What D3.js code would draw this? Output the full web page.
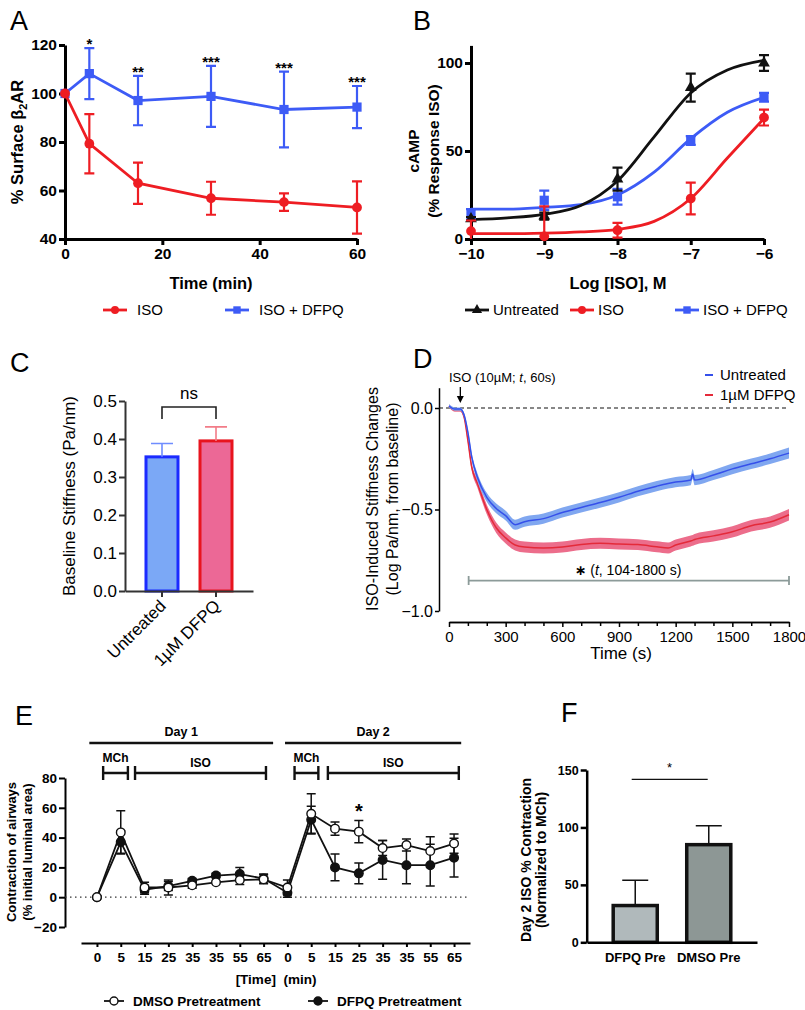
<!DOCTYPE html>
<html>
<head>
<meta charset="utf-8">
<script src="https://cdn.jsdelivr.net/npm/d3@7"></script>
<style>
	body { margin: 0; background: #fff; }
	svg { font-family: "Liberation Sans", Arial, Helvetica, sans-serif; }
</style>
</head>
<body>
<svg id="fig" width="805" height="1010"></svg>
<script>
/*=================
=== Data
=================*/

// A - surface b2AR over time
const aTime = [0, 5, 15, 30, 45, 60];
const aIso = [100, 79.3, 63, 56.8, 55.2, 53];
const aIsoErr = [0, 12.2, 8.5, 6.8, 3.6, 10.8];
const aDfpq = [100, 108.2, 97.1, 98.8, 93.4, 94.4];
const aDfpqErr = [0, 10.5, 10.2, 12.6, 15.6, 8.7];
const aStars = ['', '*', '**', '***', '***', '***'];
const aTicksX = [0, 20, 40, 60];
const aTicksY = [40, 60, 80, 100, 120];

// B - cAMP dose response
const bLogIso = [-10, -9, -8, -7, -6];
const bUntreated = [11.5, 13, 34, 86, 100];
const bUntreatedErr = [1, 2, 6.5, 8, 4.5];
const bIso = [4.5, 1.5, 5, 23, 69];
const bIsoErr = [6, 17, 4.2, 9, 4.5];
const bDfpq = [14, 22, 24, 56, 80.5];
const bDfpqErr = [3, 5.5, 4.5, 2.5, 2.5];
// fitted curves
const bFitX = [-10, -9.5, -9, -8.5, -8, -7.5, -7, -6.5, -6];
const bFitUntreated = [11, 12, 14, 19, 33, 58, 83, 96, 101.5];
const bFitIso = [3, 3, 3.3, 4, 5.5, 10, 23, 46, 68.5];
const bFitDfpq = [17, 17, 18, 19.5, 25, 38, 57, 72, 80.5];
const bTicksX = [-10, -9, -8, -7, -6];
const bTicksY = [0, 50, 100];

// C - baseline stiffness
const cCats = ['Untreated', '1\u00b5M DFPQ'];
const cMeans = [0.353, 0.395];
const cErr = [0.035, 0.037];
const cTicksY = [0, 0.1, 0.2, 0.3, 0.4, 0.5];

// D - ISO induced stiffness changes
const dTime = [0, 30, 60, 80, 100, 120, 150, 200, 250, 300, 350, 400, 500, 600, 700, 800, 900, 1000, 1100, 1160, 1200, 1280, 1290, 1300, 1400, 1500, 1600, 1700, 1800];
const dUntreated = [0.01, -0.005, -0.005, -0.035, -0.12, -0.24, -0.34, -0.44, -0.495, -0.53, -0.575, -0.56, -0.545, -0.515, -0.49, -0.466, -0.44, -0.41, -0.385, -0.372, -0.365, -0.355, -0.325, -0.355, -0.33, -0.3, -0.275, -0.25, -0.222];
const dDfpq = [0.01, -0.01, -0.01, -0.045, -0.16, -0.29, -0.37, -0.5, -0.59, -0.64, -0.675, -0.685, -0.69, -0.685, -0.672, -0.666, -0.67, -0.673, -0.684, -0.69, -0.675, -0.655, -0.652, -0.648, -0.63, -0.61, -0.58, -0.562, -0.526];
const dUntreatedSem = [0.008, 0.008, 0.008, 0.01, 0.014, 0.018, 0.02, 0.022, 0.024, 0.024, 0.025, 0.025, 0.025, 0.025, 0.025, 0.025, 0.025, 0.025, 0.025, 0.025, 0.025, 0.025, 0.025, 0.025, 0.025, 0.026, 0.026, 0.026, 0.027];
const dDfpqSem = [0.008, 0.008, 0.008, 0.01, 0.014, 0.018, 0.022, 0.024, 0.026, 0.027, 0.027, 0.027, 0.027, 0.027, 0.027, 0.027, 0.027, 0.027, 0.027, 0.027, 0.027, 0.027, 0.027, 0.027, 0.028, 0.028, 0.028, 0.028, 0.028];
const dTicksX = [0, 300, 600, 900, 1200, 1500, 1800];
const dMinorX = [100, 200, 400, 500, 700, 800, 1000, 1100, 1300, 1400, 1600, 1700];
const dTicksY = [-1, -0.5, 0];

// E - airway contraction
const eLabels = ['0', '5', '15', '25', '35', '35', '55', '65', '0', '5', '15', '25', '35', '35', '55', '65'];
const eDmso = [0, 43.5, 6.5, 6.5, 8, 10, 11.5, 12, 6.5, 56, 46, 44, 33, 35, 31, 36];
const eDmsoErr = [0, 14.5, 3.5, 5, 2, 0, 3, 3, 5, 13.5, 4.5, 7.5, 5, 4, 9.5, 6.5];
const eDfpq = [0, 37, 5, 7.5, 11, 14.5, 15.5, 12.5, 3, 52, 20, 16, 25, 21.5, 21.5, 26.5];
const eDfpqErr = [0, 7.5, 3, 3, 1.5, 1.5, 4.5, 3, 3, 9, 9, 7, 13, 12.5, 14, 13];
const eTicksY = [-20, 0, 20, 40, 60, 80];
// treatment brackets, in category index units
const eDays = [{label: 'Day 1', from: -0.32, to: 7.4}, {label: 'Day 2', from: 7.9, to: 15.3}];
const eTreat = [
	{label: 'MCh', from: 0.26, to: 1.3}, {label: 'ISO', from: 1.6, to: 7.1},
	{label: 'MCh', from: 8.3, to: 9.3}, {label: 'ISO', from: 9.7, to: 15.2}
];

// F - day 2 ISO contraction
const fCats = ['DFPQ Pre', 'DMSO Pre'];
const fMeans = [32, 85];
const fErr = [22, 16.5];
const fTicksY = [0, 50, 100, 150];

/*=================
=== Helpers
=================*/

const font = '"Liberation Sans", Arial, Helvetica, sans-serif';
const red = '#ee1d23';
const blue = '#3d5bf6';
const svg = d3.select('#fig');

function axis(sel, ax, o) {
	sel.call(ax.tickSize(o.ts === undefined ? 6 : o.ts).tickSizeOuter(0).tickPadding(o.tp === undefined ? 3 : o.tp));
	sel.attr('font-family', font)
		.attr('font-size', o.fs)
		.attr('font-weight', o.bold ? 'bold' : 'normal');
	sel.select('.domain').attr('stroke', o.c || '#000').attr('stroke-width', o.w);
	sel.selectAll('.tick line').attr('stroke', o.c || '#000').attr('stroke-width', o.w);
	sel.selectAll('.tick text').attr('fill', '#000');
	return sel;
}

function letter(x, y, t) {
	svg.append('text').attr('x', x).attr('y', y).attr('font-size', 27).text(t);
}

function yLabel(g, x, y, txt, size, bold) {
	return g.append('text')
		.attr('transform', `translate(${x},${y}) rotate(-90)`)
		.attr('text-anchor', 'middle')
		.attr('font-size', size)
		.attr('font-weight', bold ? 'bold' : 'normal')
		.text(txt);
}

function label(g, x, y, txt, size, bold, anchor) {
	return g.append('text')
		.attr('x', x).attr('y', y)
		.attr('text-anchor', anchor || 'middle')
		.attr('font-size', size)
		.attr('font-weight', bold ? 'bold' : 'normal')
		.text(txt);
}

// error bars: pts = [{x, v, e}]
function errBars(g, pts, x, y, color, cap, w, upOnly, floor) {
	g.append('g').selectAll('path')
		.data(pts.filter(p => p.e > 0))
		.join('path')
		.attr('fill', 'none')
		.attr('stroke', color)
		.attr('stroke-width', w)
		.attr('d', p => {
			const xx = x(p.x);
			const t = y(p.v + p.e);
			let lo = upOnly ? p.v : p.v - p.e;
			if (floor !== undefined) lo = Math.max(floor, lo);
			const b = y(lo);
			let d = `M${xx},${b}V${t}M${xx - cap / 2},${t}H${xx + cap / 2}`;
			if (!upOnly && (floor === undefined || p.v - p.e >= floor)) d += `M${xx - cap / 2},${b}H${xx + cap / 2}`;
			return d;
		});
}

/*=================
=== Panel A
=================*/

letter(10, 30, 'A');
const gA = svg.append('g');
const xA = d3.scaleLinear().domain([0, 60]).range([65, 357]);
const yA = d3.scaleLinear().domain([40, 120]).range([239, 45]);

axis(gA.append('g').attr('transform', 'translate(0,239)'), d3.axisBottom(xA).tickValues(aTicksX), {w: 3, fs: 15.5, bold: true});
axis(gA.append('g').attr('transform', 'translate(65,0)'), d3.axisLeft(yA).tickValues(aTicksY), {w: 3, fs: 15.5, bold: true, tp: 2});

const aSeries = [
	{vals: aDfpq, err: aDfpqErr, color: blue, sym: d3.symbolSquare, size: 85},
	{vals: aIso, err: aIsoErr, color: red, sym: d3.symbolCircle, size: 75}
];
const lineA = d3.line().x(d => xA(d.x)).y(d => yA(d.v));
aSeries.forEach(s => {
	const pts = aTime.map((t, i) => ({x: t, v: s.vals[i], e: s.err[i]}));
	gA.append('path').datum(pts)
		.attr('d', lineA).attr('fill', 'none')
		.attr('stroke', s.color).attr('stroke-width', 2.8);
	errBars(gA, pts, xA, yA, s.color, 10, 2.2, false);
	gA.append('g').selectAll('path').data(pts).join('path')
		.attr('transform', d => `translate(${xA(d.x)},${yA(d.v)})`)
		.attr('d', d3.symbol().type(s.sym).size(s.size))
		.attr('fill', s.color);
});

gA.append('g').selectAll('text').data(aTime)
	.join('text')
	.attr('x', d => xA(d))
	.attr('y', (d, i) => yA(aDfpq[i] + aDfpqErr[i]) + 1)
	.attr('text-anchor', 'middle')
	.attr('font-size', 15).attr('font-weight', 'bold')
	.text((d, i) => aStars[i]);

const aY = gA.append('text')
	.attr('transform', 'translate(23,142) rotate(-90)')
	.attr('text-anchor', 'middle')
	.attr('font-size', 16.5).attr('font-weight', 'bold');
aY.append('tspan').text('% Surface \u03b2');
aY.append('tspan').attr('font-size', 11).attr('dy', 4).text('2');
aY.append('tspan').attr('dy', -4).text('AR');
label(gA, 211, 289, 'Time (min)', 16.5, true);

// legend A
[{x: 115, txt: 'ISO', color: red, sym: d3.symbolCircle, size: 50},
 {x: 237, txt: 'ISO + DFPQ', color: blue, sym: d3.symbolSquare, size: 55}].forEach(l => {
	gA.append('line').attr('x1', l.x - 12).attr('x2', l.x + 12).attr('y1', 310).attr('y2', 310)
		.attr('stroke', l.color).attr('stroke-width', 2.8);
	gA.append('path').attr('transform', `translate(${l.x},310)`)
		.attr('d', d3.symbol().type(l.sym).size(l.size)).attr('fill', l.color);
	label(gA, l.x + 22, 315, l.txt, 15, false, 'start');
});

/*=================
=== Panel B
=================*/

letter(413, 30, 'B');
const gB = svg.append('g');
const xB = d3.scaleLinear().domain([-10, -6]).range([471, 764]);
const yB = d3.scaleLinear().domain([0, 110]).range([239, 45.4]);

axis(gB.append('g').attr('transform', 'translate(0,239)'), d3.axisBottom(xB).tickValues(bTicksX).tickFormat(d3.format('d')), {w: 3, fs: 15.5, bold: true});
axis(gB.append('g').attr('transform', 'translate(471,0)'), d3.axisLeft(yB).tickValues(bTicksY), {w: 3, fs: 15.5, bold: true, tp: 2});

const bSeries = [
	{vals: bDfpq, err: bDfpqErr, fit: bFitDfpq, color: blue, sym: d3.symbolSquare, size: 85},
	{vals: bUntreated, err: bUntreatedErr, fit: bFitUntreated, color: '#111', sym: d3.symbolTriangle, size: 60},
	{vals: bIso, err: bIsoErr, fit: bFitIso, color: red, sym: d3.symbolCircle, size: 75}
];
const lineB = d3.line().x(d => xB(d.x)).y(d => yB(d.v)).curve(d3.curveMonotoneX);
bSeries.forEach(s => {
	const fit = bFitX.map((x, i) => ({x: x, v: s.fit[i]}));
	gB.append('path').datum(fit)
		.attr('d', lineB).attr('fill', 'none')
		.attr('stroke', s.color).attr('stroke-width', 2.8);
});
bSeries.forEach(s => {
	const pts = bLogIso.map((x, i) => ({x: x, v: s.vals[i], e: s.err[i]}));
	errBars(gB, pts, xB, yB, s.color, 10, 2.2, false, 0);
	gB.append('g').selectAll('path').data(pts).join('path')
		.attr('transform', d => `translate(${xB(d.x)},${yB(d.v)})`)
		.attr('d', d3.symbol().type(s.sym).size(s.size))
		.attr('fill', s.color);
});

yLabel(gB, 419, 151, 'cAMP', 15.5, true);
yLabel(gB, 439, 151, '(% Response ISO)', 15.5, true);
label(gB, 618, 289, 'Log [ISO], M', 16.5, true);

[{x: 477, txt: 'Untreated', color: '#111', sym: d3.symbolTriangle, size: 45},
 {x: 582, txt: 'ISO', color: red, sym: d3.symbolCircle, size: 50},
 {x: 687, txt: 'ISO + DFPQ', color: blue, sym: d3.symbolSquare, size: 55}].forEach(l => {
	gB.append('line').attr('x1', l.x - 12).attr('x2', l.x + 12).attr('y1', 310).attr('y2', 310)
		.attr('stroke', l.color).attr('stroke-width', 2.8);
	gB.append('path').attr('transform', `translate(${l.x},310)`)
		.attr('d', d3.symbol().type(l.sym).size(l.size)).attr('fill', l.color);
	label(gB, l.x + 16, 315, l.txt, 15, false, 'start');
});

/*=================
=== Panel C
=================*/

letter(10, 372, 'C');
const gC = svg.append('g');
const xC = d3.scaleBand().domain(cCats).range([125, 253]).paddingInner(0.352).paddingOuter(0.361);
const yC = d3.scaleLinear().domain([0, 0.5]).range([591, 401]);
const cFill = ['#7ba8f6', '#ec6896'];
const cStroke = ['#1b2bff', '#e8141e'];
const cErrColor = ['#6f8dff', '#f27c88'];

gC.selectAll('.barC').data(cCats).join('rect')
	.attr('class', 'barC')
	.attr('x', d => xC(d) + 1.5)
	.attr('width', xC.bandwidth() - 3)
	.attr('y', (d, i) => yC(cMeans[i]))
	.attr('height', (d, i) => yC(0) - yC(cMeans[i]))
	.attr('fill', (d, i) => cFill[i])
	.attr('stroke', (d, i) => cStroke[i])
	.attr('stroke-width', 3);
cCats.forEach((c, i) => {
	errBars(gC, [{x: c, v: cMeans[i], e: cErr[i]}], d => xC(d) + xC.bandwidth() / 2, yC, cErrColor[i], 22, 1.6, true);
});

const axC = axis(gC.append('g').attr('transform', 'translate(0,591)'), d3.axisBottom(xC), {w: 2, fs: 17, c: '#333'});
axC.selectAll('.tick text')
	.attr('x', 0).attr('y', 0).attr('dy', 0)
	.attr('transform', 'translate(5,16) rotate(-45)')
	.style('text-anchor', 'end');
axis(gC.append('g').attr('transform', 'translate(125,0)'), d3.axisLeft(yC).tickValues(cTicksY).tickFormat(d3.format('.1f')), {w: 2, fs: 17, c: '#333', tp: 2});

// ns bracket
const cx0 = xC(cCats[0]) + xC.bandwidth() / 2;
const cx1 = xC(cCats[1]) + xC.bandwidth() / 2;
gC.append('path')
	.attr('d', `M${cx0},419V407H${cx1}V419`)
	.attr('fill', 'none').attr('stroke', '#222').attr('stroke-width', 1.6);
label(gC, (cx0 + cx1) / 2, 399, 'ns', 17, false);
yLabel(gC, 75, 496, 'Baseline Stiffness (Pa/nm)', 17, false);

/*=================
=== Panel D
=================*/

letter(413, 368, 'D');
const gD = svg.append('g');
const xD = d3.scaleLinear().domain([0, 1800]).range([449, 789]);
const yD = d3.scaleLinear().domain([-1, 0.1]).range([611, 387.7]);

axis(gD.append('g').attr('transform', 'translate(0,622)'), d3.axisBottom(xD).tickValues(dMinorX).tickFormat(''), {w: 1.5, fs: 15, ts: 4});
axis(gD.append('g').attr('transform', 'translate(0,622)'), d3.axisBottom(xD).tickValues(dTicksX).tickFormat(d3.format('d')), {w: 1.5, fs: 15, ts: 5, tp: 4});
axis(gD.append('g').attr('transform', 'translate(439,0)'), d3.axisLeft(yD).tickValues(dTicksY).tickFormat(d3.format('.1f')), {w: 1.5, fs: 16, ts: 4, tp: 2});

gD.append('line')
	.attr('x1', 439).attr('x2', xD(1800))
	.attr('y1', yD(0)).attr('y2', yD(0))
	.attr('stroke', '#111').attr('stroke-width', 1.2).attr('stroke-dasharray', '4,3');

const dSeries = [
	{vals: dDfpq, sem: dDfpqSem, line: '#e42a3a', band: '#ec6d8b'},
	{vals: dUntreated, sem: dUntreatedSem, line: '#3550ea', band: '#80a7f0'}
];
const areaD = d3.area().x(d => xD(d.t)).y0(d => yD(d.v - d.s)).y1(d => yD(d.v + d.s)).curve(d3.curveMonotoneX);
const lineD = d3.line().x(d => xD(d.t)).y(d => yD(d.v)).curve(d3.curveMonotoneX);
dSeries.forEach(s => {
	const pts = dTime.map((t, i) => ({t: t, v: s.vals[i], s: s.sem[i]}));
	gD.append('path').datum(pts).attr('d', areaD).attr('fill', s.band);
	gD.append('path').datum(pts).attr('d', lineD)
		.attr('fill', 'none').attr('stroke', s.line).attr('stroke-width', 1.5);
});

// ISO arrow
gD.append('line')
	.attr('x1', xD(60)).attr('x2', xD(60))
	.attr('y1', 387).attr('y2', 398)
	.attr('stroke', '#000').attr('stroke-width', 1.3);
gD.append('path')
	.attr('d', `M${xD(60) - 3.5},396L${xD(60)},403L${xD(60) + 3.5},396Z`)
	.attr('fill', '#000');
const iso = gD.append('text').attr('x', 449).attr('y', 382).attr('font-size', 13);
iso.append('tspan').text('ISO (10\u00b5M; ');
iso.append('tspan').attr('font-style', 'italic').text('t');
iso.append('tspan').text(', 60s)');

// legend D
[{y: 375, txt: 'Untreated', color: '#3550ea'}, {y: 395, txt: '1\u00b5M DFPQ', color: '#e42a3a'}].forEach(l => {
	gD.append('line').attr('x1', 705).attr('x2', 713).attr('y1', l.y).attr('y2', l.y)
		.attr('stroke', l.color).attr('stroke-width', 2);
	label(gD, 720, l.y + 5, l.txt, 15, false, 'start');
});

// significance span
gD.append('path')
	.attr('d', `M${xD(104)},576V585M${xD(104)},580.7H${xD(1800)}M${xD(1800)},576V585`)
	.attr('fill', 'none').attr('stroke', '#8c9b99').attr('stroke-width', 1.8);
const sig = gD.append('text').attr('x', 628).attr('y', 575).attr('text-anchor', 'middle').attr('font-size', 14);
sig.append('tspan').attr('font-weight', 'bold').attr('font-family', 'DejaVu Sans').text('\u2217');
sig.append('tspan').text(' (');
sig.append('tspan').attr('font-style', 'italic').text('t');
sig.append('tspan').text(', 104-1800 s)');

yLabel(gD, 378, 499, 'ISO-Induced Stiffness Changes', 16, false);
yLabel(gD, 398, 499, '(Log Pa/nm, from baseline)', 16, false);
label(gD, 621, 659, 'Time (s)', 17, false);

/*=================
=== Panel E
=================*/

letter(15, 725, 'E');
const gE = svg.append('g');
const xE = d3.scalePoint().domain(d3.range(eLabels.length)).range([81, 470]).padding(0.67);
const yE = d3.scaleLinear().domain([-20, 80]).range([927, 778]);
const xEi = i => xE(0) + i * xE.step();

axis(gE.append('g').attr('transform', 'translate(0,943)'), d3.axisBottom(xE).tickFormat(i => eLabels[i]), {w: 2, fs: 13.5, bold: true, ts: 4, tp: 5});
axis(gE.append('g').attr('transform', 'translate(65,0)'), d3.axisLeft(yE).tickValues(eTicksY), {w: 2, fs: 13.5, bold: true, ts: 6, tp: 2});

gE.append('line')
	.attr('x1', 65).attr('x2', 468)
	.attr('y1', yE(0)).attr('y2', yE(0))
	.attr('stroke', '#333').attr('stroke-width', 1.3).attr('stroke-dasharray', '1.5,3.5');

// day / treatment brackets
eDays.forEach(d => {
	gE.append('line').attr('x1', xEi(d.from)).attr('x2', xEi(d.to)).attr('y1', 743).attr('y2', 743)
		.attr('stroke', '#111').attr('stroke-width', 2.6);
	label(gE, (xEi(d.from) + xEi(d.to)) / 2, 736, d.label, 12.5, true);
});
eTreat.forEach(d => {
	const a = xEi(d.from), b = xEi(d.to);
	gE.append('path').attr('d', `M${a},766V780M${a},773H${b}M${b},766V780`)
		.attr('fill', 'none').attr('stroke', '#111').attr('stroke-width', 2.4);
	label(gE, (a + b) / 2, d.label === 'MCh' ? 762 : 767, d.label, 12, true);
});

const eSeries = [
	{vals: eDfpq, err: eDfpqErr, open: false},
	{vals: eDmso, err: eDmsoErr, open: true}
];
const lineE = d3.line().x(d => xE(d.x)).y(d => yE(d.v));
eSeries.forEach(s => {
	const pts = eLabels.map((l, i) => ({x: i, v: s.vals[i], e: s.err[i]}));
	errBars(gE, pts, xE, yE, '#111', 9, 1.5, false);
	gE.append('path').datum(pts).attr('d', lineE)
		.attr('fill', 'none').attr('stroke', '#111').attr('stroke-width', 1.8);
	s.pts = pts;
});
eSeries.forEach(s => {
	gE.append('g').selectAll('circle').data(s.pts).join('circle')
		.attr('cx', d => xE(d.x)).attr('cy', d => yE(d.v)).attr('r', 4.3)
		.attr('fill', s.open ? '#fff' : '#111')
		.attr('stroke', '#111').attr('stroke-width', 1.4);
});
label(gE, xE(11), 818, '*', 20, true);

yLabel(gE, 16, 852, 'Contraction of airways', 13, true);
yLabel(gE, 32, 852, '(% initial luminal area)', 13, true);
label(gE, 276, 984, '[Time]  (min)', 13.5, true).attr('xml:space', 'preserve');

[{x: 114, txt: 'DMSO Pretreatment', open: true}, {x: 318, txt: 'DFPQ Pretreatment', open: false}].forEach(l => {
	gE.append('line').attr('x1', l.x - 10).attr('x2', l.x + 10).attr('y1', 1001).attr('y2', 1001)
		.attr('stroke', '#111').attr('stroke-width', 1.8);
	gE.append('circle').attr('cx', l.x).attr('cy', 1001).attr('r', 4)
		.attr('fill', l.open ? '#fff' : '#111').attr('stroke', '#111').attr('stroke-width', 1.4);
	label(gE, l.x + 19, 1006, l.txt, 13.5, true, 'start');
});

/*=================
=== Panel F
=================*/

letter(561, 722, 'F');
const gF = svg.append('g');
const xF = d3.scaleBand().domain(fCats).range([587, 757]).paddingInner(0.36).paddingOuter(0.336);
const yF = d3.scaleLinear().domain([0, 150]).range([942.3, 770]);
const fFill = ['#b0b9bb', '#8d9795'];

gF.selectAll('.barF').data(fCats).join('rect')
	.attr('class', 'barF')
	.attr('x', d => xF(d) + 1.5)
	.attr('width', xF.bandwidth() - 3)
	.attr('y', (d, i) => yF(fMeans[i]))
	.attr('height', (d, i) => yF(0) - yF(fMeans[i]))
	.attr('fill', (d, i) => fFill[i])
	.attr('stroke', '#111')
	.attr('stroke-width', 3.5);
errBars(gF, fCats.map((c, i) => ({x: c, v: fMeans[i], e: fErr[i]})), d => xF(d) + xF.bandwidth() / 2, yF, '#111', 26, 1.5, true);

axis(gF.append('g').attr('transform', 'translate(0,942.3)'), d3.axisBottom(xF), {w: 2.5, fs: 13, bold: true, ts: 0, tp: 10});
axis(gF.append('g').attr('transform', 'translate(586.7,0)'), d3.axisLeft(yF).tickValues(fTicksY), {w: 2.5, fs: 12.5, bold: true, ts: 6, tp: 2});

gF.append('line').attr('x1', 631.7).attr('x2', 707.7).attr('y1', 779.3).attr('y2', 779.3)
	.attr('stroke', '#111').attr('stroke-width', 1.2);
label(gF, 669.5, 772, '*', 13, false);

yLabel(gF, 531, 860, 'Day 2 ISO % Contraction', 14, true);
yLabel(gF, 546, 860, '(Normalized to MCh)', 14, true);
</script>
</body>
</html>
